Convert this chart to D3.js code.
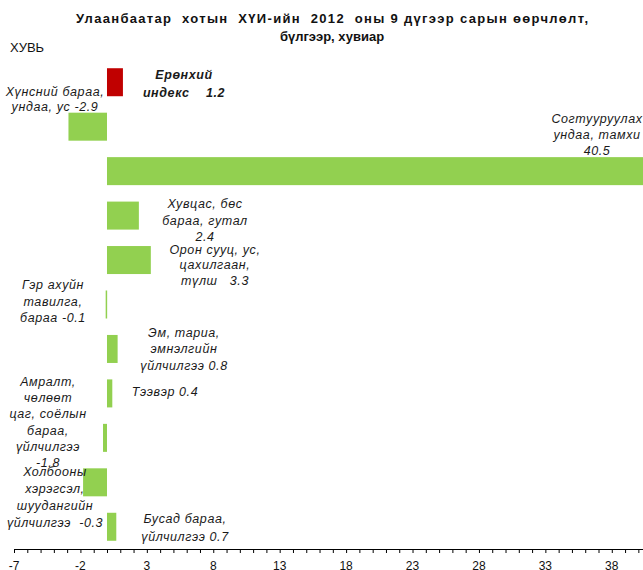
<!DOCTYPE html>
<html><head><meta charset="utf-8">
<script src="https://cdn.jsdelivr.net/npm/d3@7"></script>
<style>
body{margin:0;background:#fff;}
text{font-family:"Liberation Sans",Arial,sans-serif;}
</style></head>
<body><svg id="c" width="643" height="570"></svg>
<script>
const categories = ["Ерөнхий индекс","Хүнсний бараа, ундаа, ус","Согтууруулах ундаа, тамхи","Хувцас, бөс бараа, гутал","Орон сууц, ус, цахилгаан, түлш","Гэр ахуйн тавилга, бараа","Эм, тариа, эмнэлгийн үйлчилгээ","Тээвэр","Амралт, чөлөөт цаг, соёлын бараа, үйлчилгээ","Холбооны хэрэгсэл, шуудангийн үйлчилгээ","Бусад бараа, үйлчилгээ"];
const values = [1.2, -2.9, 40.5, 2.4, 3.3, -0.1, 0.8, 0.4, -0.3, -1.8, 0.7];
const labelLines = [
  ["Ерөнхий","индекс    1.2"],
  ["Хүнсний бараа,","ундаа, ус -2.9"],
  ["Согтууруулах","ундаа, тамхи","40.5"],
  ["Хувцас, бөс","бараа, гутал","2.4"],
  ["Орон сууц, ус,","цахилгаан,","түлш   3.3"],
  ["Гэр ахуйн","тавилга,","бараа -0.1"],
  ["Эм, тариа,","эмнэлгийн","үйлчилгээ 0.8"],
  ["Тээвэр 0.4"],
  ["Амралт,","чөлөөт","цаг, соёлын","бараа,","үйлчилгээ","-1.8"],
  ["Холбооны","хэрэгсэл,","шуудангийн","үйлчилгээ  -0.3"],
  ["Бусад бараа,","үйлчилгээ 0.7"]
];
const tickLabels = [-7,-2,3,8,13,18,23,28,33,38];
const titleLines = ["Улаанбаатар  хотын  ХҮИ-ийн  2012  оны 9 дүгээр сарын өөрчлөлт,","бүлгээр, хувиар"];
const yAxisTitle = "ХУВЬ";

// layout (label anchor: center x in px, first baseline offset within band, line height)
const labelLayout = [
  {cx:184, dy:19, lh:18, bold:true},
  {cx:55, dy:-8, lh:15},
  {cx:597, dy:-26, lh:16},
  {cx:205, dy:15, lh:16.5},
  {cx:215, dy:16, lh:15.5},
  {cx:53, dy:7, lh:16.5},
  {cx:184, dy:10, lh:16.5},
  {cx:165, dy:25, lh:16},
  {cx:48, dy:-30, lh:16.3},
  {cx:55, dy:16, lh:17},
  {cx:185, dy:18, lh:18}
];

const svg = d3.select("#c");
const x = d3.scaleLinear().domain([-7, 40.5]).range([14, 645]);
const y = d3.scaleBand().domain(categories).range([60, 549]).paddingInner(0.37).paddingOuter(0.185);

svg.append("g").selectAll("rect").data(categories).join("rect")
  .attr("x", (d,i)=>x(Math.min(0, values[i])))
  .attr("y", d=>y(d))
  .attr("width", (d,i)=>Math.max(1.5, Math.abs(x(values[i]) - x(0))))
  .attr("height", y.bandwidth())
  .attr("fill", (d,i)=> i===0 ? "#C00000" : "#92D050");

// axis
const axisG = svg.append("g").attr("transform","translate(0,549)");
axisG.call(d3.axisBottom(x).tickValues(d3.range(-7, 41, 1)).tickSize(4).tickFormat(""))
  .call(g=>g.select(".domain").attr("d", `M${x(-7)},0.5H643`).attr("stroke","#000"))
  .call(g=>g.selectAll(".tick line").attr("stroke","#000"));
axisG.selectAll(".lbl").data(tickLabels).join("text").attr("class","lbl")
  .attr("x", d=>x(d)).attr("y", 20.5).attr("text-anchor","middle")
  .attr("font-size", 12).attr("fill","#111").text(d=>d);

// labels
const step = y.step();
categories.forEach((c,i)=>{
  const L = labelLayout[i];
  const bandStart = y(c) - (step - y.bandwidth())/2;
  const t = svg.append("text").attr("text-anchor","middle")
    .attr("font-size", 12.5).attr("font-style","italic").attr("fill","#1a1a1a")
    .attr("font-weight", L.bold ? "bold" : "normal").attr("letter-spacing", "0.6px");
  labelLines[i].forEach((ln,j)=>{
    t.append("tspan").attr("x", L.cx).attr("y", bandStart + L.dy + j*L.lh).attr("xml:space","preserve").text(ln);
  });
});

// title
svg.append("g").selectAll("text").data(titleLines).join("text")
  .attr("x", 332).attr("y", (d,i)=>23 + i*18).attr("text-anchor","middle")
  .attr("font-size", 13).attr("font-weight","bold").attr("fill","#111")
  .attr("xml:space","preserve")
  .each(function(d,i){ if(i===0) d3.select(this).attr("textLength", 512).attr("lengthAdjust","spacing"); })
  .text(d=>d);
svg.append("text").attr("x", 10).attr("y", 52).attr("font-size", 13).attr("fill","#111").text(yAxisTitle);
</script></body></html>
